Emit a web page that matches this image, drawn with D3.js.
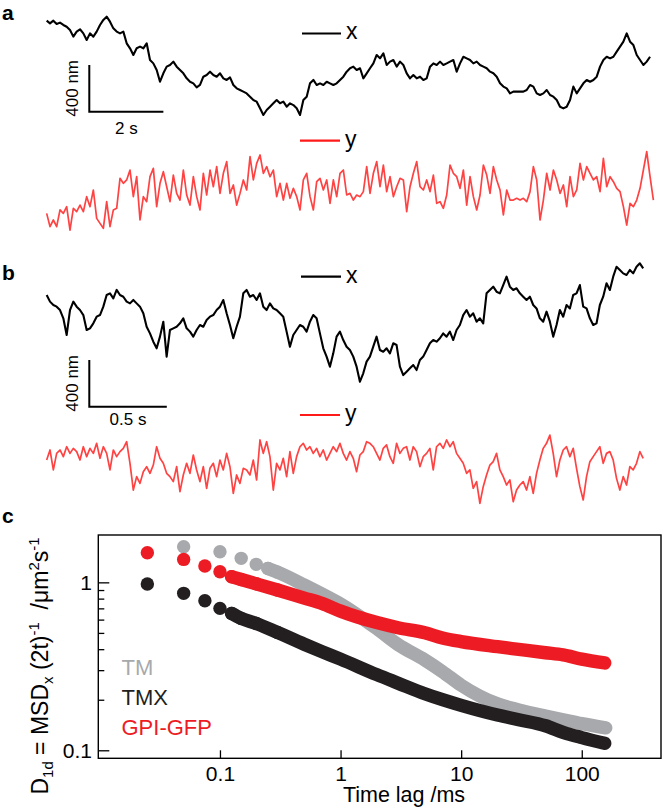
<!DOCTYPE html>
<html><head><meta charset="utf-8">
<script src="https://cdn.jsdelivr.net/npm/d3@7"></script>
<style>
body{margin:0;background:#fff}
svg{display:block}
text{font-family:"Liberation Sans",Arial,Helvetica,sans-serif}
</style>
</head><body>
<svg id="fig" width="662" height="811"></svg>
<script>
// ---------------- DATA ----------------
// Panel a: single-particle trajectory, displacement in nm, sampled every aDt seconds
const aDt = 0.09;
const aX = [851,828,851,822,834,814,799,771,714,757,777,742,685,742,714,757,814,857,885,842,785,757,742,757,657,614,557,614,628,614,657,514,485,428,328,400,457,471,500,457,428,400,357,328,314,280,300,371,385,414,385,371,400,357,343,365,300,271,257,243,228,200,171,157,100,43,86,114,143,171,143,157,114,143,128,100,43,171,200,314,343,300,314,300,328,314,
300,314,343,371,414,443,457,428,443,357,400,443,485,557,528,571,471,500,514,457,500,471,400,357,385,357,371,343,357,457,485,471,500,471,485,500,514,414,485,542,528,514,485,500,471,457,443,414,400,371,314,286,271,228,243,243,243,243,257,300,286,228,214,228,257,214,200,171,114,100,114,171,286,228,271,314,343,328,343,371,457,514,542,528,542,585,628,671,742,671,642,557,514,471,500,542];
const aY = [314,200,257,200,343,314,371,171,357,328,385,328,457,371,514,271,228,186,414,200,343,357,614,571,600,685,457,628,257,457,414,628,699,371,571,671,542,414,642,485,428,685,471,385,628,457,343,657,471,685,542,714,485,657,757,485,557,385,485,600,514,799,600,742,814,657,714,628,685,457,571,428,571,443,528,457,343,600,657,457,343,585,614,514,600,400,
600,457,657,685,471,485,428,471,457,500,714,485,657,757,542,728,500,628,457,542,614,600,328,542,657,757,542,514,600,500,642,400,414,357,471,728,657,628,528,685,385,628,457,343,471,728,642,485,714,600,514,300,514,428,428,443,428,443,414,500,714,600,257,428,657,514,685,600,485,557,371,628,457,514,742,600,714,657,600,628,500,785,542,628,585,528,500,371,214,400,371,428,528,685,842,628,428];
// Panel b: displacement in nm, sampled every bDt seconds
const bDt = 0.0215;
const bX = [814,757,728,714,685,614,471,685,757,714,685,642,514,528,571,628,642,714,814,828,785,857,814,799,757,742,771,742,714,657,542,485,414,357,457,585,286,514,528,542,571,614,528,500,457,514,557,542,600,628,642,685,714,771,657,557,443,542,628,828,857,799,814,771,828,714,685,742,699,685,657,628,500,371,471,514,557,542,500,585,642,614,485,357,286,200,
314,457,500,428,371,343,286,200,71,143,243,286,371,457,343,328,357,314,400,385,200,128,157,186,214,171,257,286,343,400,428,414,443,485,457,500,428,514,557,642,685,628,657,585,614,571,828,857,885,842,828,899,971,885,857,871,828,799,771,799,728,699,614,585,671,585,457,557,685,628,728,699,814,828,899,714,699,614,557,571,728,799,914,857,971,1056,1028,999,985,1028,999,1056,1085,1042];
const bY = [428,514,343,485,514,457,542,485,528,500,428,542,457,528,485,571,443,542,485,343,514,457,500,528,585,400,171,286,228,328,371,314,385,542,443,400,314,286,243,371,157,300,400,314,471,343,243,371,186,357,400,286,428,343,485,371,143,300,228,357,343,300,428,257,600,485,585,457,171,400,343,443,286,500,314,457,542,571,514,542,485,528,457,514,428,485,
542,500,571,485,428,500,443,328,471,500,585,571,542,485,428,528,557,457,400,571,485,528,542,428,542,500,371,457,485,528,343,542,571,528,600,542,585,485,443,400,314,343,186,243,57,200,300,385,414,485,343,286,214,257,71,171,214,243,171,286,143,314,428,528,571,642,485,286,428,514,542,457,528,357,200,86,286,414,457,500,542,400,485,500,428,271,171,286,214,371,343,400,500,443];
// Panel c: D1d (um^2/s) versus time lag (ms)
const tmT  = [0.05,0.1,0.15,0.2,0.25,0.3,0.5,0.7,1,2,3,5,7,10,20,30,50,70,100,158];
const tmD  = [1.63,1.52,1.39,1.28,1.21,1.15,0.964,0.852,0.742,0.530,0.426,0.345,0.294,0.244,0.189,0.174,0.160,0.152,0.144,0.136];
const tmxT = [0.025,0.05,0.075,0.1,0.125,0.15,0.2,0.3,0.5,0.7,1,2,3,5,7,10,20,30,50,70,100,155];
const tmxD = [0.977,0.860,0.777,0.700,0.653,0.610,0.569,0.503,0.428,0.387,0.349,0.282,0.251,0.217,0.200,0.185,0.162,0.152,0.140,0.128,0.119,0.110];
const gpiT = [0.025,0.05,0.075,0.1,0.125,0.15,0.2,0.3,0.5,0.7,1,2,3,5,7,10,20,30,50,70,100,155];
const gpiD = [1.50,1.37,1.25,1.157,1.08,1.04,0.98,0.90,0.806,0.750,0.674,0.576,0.537,0.501,0.467,0.444,0.414,0.399,0.381,0.370,0.349,0.331];
const cXTicks = [0.1,1,10,100];
const cYMajor = [0.1,1];
const cYMinor = [0.2,0.3,0.4,0.5,0.6,0.7,0.8,0.9];
const legendC = ["TM","TMX","GPI-GFP"];

// ---------------- DRAW ----------------
const svg = d3.select("#fig");
const BLACK = "#000", RED = "#ff4242";

function panelLabel(t, x, y){
  svg.append("text").attr("x",x).attr("y",y).attr("font-size",21).attr("font-weight","bold").text(t);
}
panelLabel("a",2,20); panelLabel("b",2,280); panelLabel("c",2,523);

function trace(vals, dt, xs, ys, color, w){
  const line = d3.line().x((d,i)=>xs(i*dt)).y(d=>ys(d));
  svg.append("path").datum(vals).attr("d",line).attr("fill","none")
     .attr("stroke",color).attr("stroke-width",w).attr("stroke-linejoin","round");
}
function legendItem(x1,x2,y,color,label){
  svg.append("line").attr("x1",x1).attr("x2",x2).attr("y1",y).attr("y2",y)
     .attr("stroke",color).attr("stroke-width",2.2);
  svg.append("text").attr("x",x2+5).attr("y",y+5.8).attr("font-size",23).text(label);
}
function scaleBar(x0,yBottom,ys,xs,tLen,tLabel){
  const h = ys(0)-ys(400), w = xs(tLen)-xs(0);
  svg.append("path").attr("d",`M${x0},${yBottom-h}V${yBottom}H${x0+w}`)
     .attr("fill","none").attr("stroke","#000").attr("stroke-width",2);
  svg.append("text").attr("transform",`translate(${x0-11.5},${yBottom-h/2}) rotate(-90)`)
     .attr("text-anchor","middle").attr("font-size",17).text("400 nm");
  svg.append("text").attr("x",x0+w/2).attr("y",yBottom+ (tLabel==="2 s"?22.5:18.5))
     .attr("text-anchor","middle").attr("font-size",17).text(tLabel);
}

// Panel a
const xA = d3.scaleLinear().domain([0,16.4]).range([46.67,46.67+16.4*37.04]);
const yAx = d3.scaleLinear().domain([0,400]).range([120,73.3]);
const yAy = d3.scaleLinear().domain([0,400]).range([250,203.3]);
trace(aX,aDt,xA,yAx,BLACK,2.1);
trace(aY,aDt,xA,yAy,RED,1.7);
legendItem(302,341,33.5,"#000","x");
legendItem(300,340,140.7,"#ff1a1a","y");
scaleBar(89.3,111.7,yAx,xA,2,"2 s");

// Panel b
const xB = d3.scaleLinear().domain([0,3.9]).range([46.67,46.67+3.9*155.0]);
const yBx = d3.scaleLinear().domain([0,400]).range([390,343.3]);
const yBy = d3.scaleLinear().domain([0,400]).range([510,463.3]);
trace(bX,bDt,xB,yBx,BLACK,2.1);
trace(bY,bDt,xB,yBy,RED,1.7);
legendItem(301,341,276.7,"#000","x");
legendItem(300,340,415,"#ff1a1a","y");
scaleBar(89.3,406.7,yBx,xB,0.5,"0.5 s");

// Panel c
const L=98.3, R=661, T=535, B=758.3;
const xC = d3.scaleLog().domain([0.0098,454]).range([L,R]);
const yC = d3.scaleLog().domain([0.0896,1.914]).range([B,T]);
const series = [
  {t:tmT, d:tmD, color:"#a7a9ac", bandFrom:0.25},
  {t:tmxT,d:tmxD,color:"#231f20", bandFrom:0.125},
  {t:gpiT,d:gpiD,color:"#ed1c24", bandFrom:0.125}
];
const R_DOT = 6.7;
const band = d3.line().x(p=>xC(p[0])).y(p=>yC(p[1])).curve(d3.curveMonotoneX);
series.forEach(s=>{
  const pts = s.t.map((t,i)=>[t,s.d[i]]);
  svg.append("path").datum(pts.filter(p=>p[0]>=s.bandFrom)).attr("d",band)
     .attr("fill","none").attr("stroke",s.color).attr("stroke-width",2*R_DOT)
     .attr("stroke-linecap","round").attr("stroke-linejoin","round");
  svg.append("g").selectAll("circle").data(pts.filter(p=>p[0]<=0.3)).join("circle")
     .attr("cx",p=>xC(p[0])).attr("cy",p=>yC(p[1])).attr("r",R_DOT).attr("fill",s.color);
});
// frame
svg.append("rect").attr("x",L).attr("y",T).attr("width",R-L).attr("height",B-T)
   .attr("fill","none").attr("stroke","#000").attr("stroke-width",1.4);
// axes
const gx = svg.append("g").attr("transform",`translate(0,${B})`)
  .call(d3.axisBottom(xC).tickValues(cXTicks).tickSizeInner(-8).tickSizeOuter(0).tickPadding(7.8).tickFormat(d=>String(d)));
const gy = svg.append("g").attr("transform",`translate(${L},0)`)
  .call(d3.axisLeft(yC).tickValues(cYMajor).tickSizeInner(-11).tickSizeOuter(0).tickPadding(6.3).tickFormat(d=>String(d)));
const gym = svg.append("g").attr("transform",`translate(${L},0)`)
  .call(d3.axisLeft(yC).tickValues(cYMinor).tickSizeInner(-6).tickSizeOuter(0).tickFormat(""));
[gx,gy,gym].forEach(g=>{
  g.select(".domain").remove();
  g.selectAll("line").attr("stroke","#000").attr("stroke-width",1.3);
  g.selectAll("text").attr("font-size",21).attr("fill","#000")
   .attr("font-family",'"Liberation Sans",Arial,Helvetica,sans-serif');
});
svg.append("text").attr("x",404).attr("y",802).attr("text-anchor","middle")
   .attr("font-size",21.5).text("Time lag /ms");
// y label
const yl = svg.append("text").attr("transform","translate(48.3,666) rotate(-90)")
   .attr("text-anchor","middle").attr("font-size",23).style("white-space","pre");
yl.append("tspan").text("D");
yl.append("tspan").attr("font-size",15).attr("dy",4.5).text("1d");
yl.append("tspan").attr("dy",-4.5).text(" = MSD");
yl.append("tspan").attr("font-size",15).attr("dy",4.5).text("x");
yl.append("tspan").attr("dy",-4.5).text(" (2t)");
yl.append("tspan").attr("font-size",15).attr("dy",-9).text("-1");
yl.append("tspan").attr("dy",9).text("  /μm");
yl.append("tspan").attr("font-size",15).attr("dy",-9).text("2");
yl.append("tspan").attr("dy",9).text("s");
yl.append("tspan").attr("font-size",15).attr("dy",-9).text("-1");
// legend c
const legColors = ["#a7a9ac","#231f20","#ed1c24"];
legendC.forEach((n,i)=>{
  svg.append("text").attr("x",121.5).attr("y",675+30*i).attr("font-size",22)
     .attr("fill",legColors[i]).text(n);
});
</script>
</body></html>
